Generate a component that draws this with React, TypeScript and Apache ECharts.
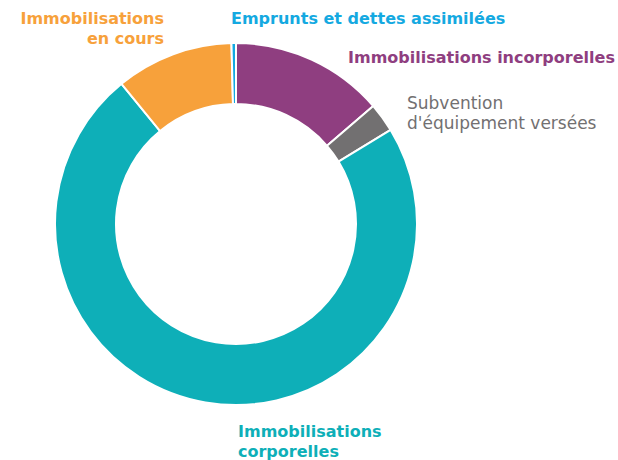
import React, { useEffect, useRef } from "react";
import * as echarts from "echarts";

const categories = [
  "Immobilisations incorporelles",
  "Subvention d'équipement versées",
  "Immobilisations corporelles",
  "Immobilisations en cours",
  "Emprunts et dettes assimilées",
];
const labelTexts = [
  "Immobilisations incorporelles",
  "Subvention\nd'équipement versées",
  "Immobilisations\ncorporelles",
  "Immobilisations\nen cours",
  "Emprunts et dettes assimilées",
];
const values = [13.7, 2.6, 72.8, 10.5, 0.4];
const colors = ["#8F3E80", "#727071", "#0EAFB8", "#F7A13B", "#14A9E1"];

const labelPos: { x: number; y: number; align: string; weight: string; size: number }[] = [
  { x: 348, y: 57, align: "left", weight: "bold", size: 16 },
  { x: 407, y: 113, align: "left", weight: "normal", size: 17 },
  { x: 238, y: 441, align: "left", weight: "bold", size: 16 },
  { x: 164, y: 28, align: "right", weight: "bold", size: 16 },
  { x: 231, y: 18, align: "left", weight: "bold", size: 16 },
];

export default function App() {
  const ref = useRef<HTMLDivElement>(null);
  useEffect(() => {
    document.body.style.margin = "0";
    const chart = echarts.init(ref.current!, null, { renderer: "svg" });
    chart.setOption({
      animation: false,
      series: [
        {
          type: "pie",
          center: [236, 224],
          radius: [120, 181],
          startAngle: 90,
          clockwise: true,
          avoidLabelOverlap: false,
          itemStyle: { borderColor: "#ffffff", borderWidth: 2 },
          labelLine: { show: false },
          label: { show: true, position: "outside" },
          emphasis: { disabled: true },
          labelLayout: (params: any) => {
            const p = labelPos[params.dataIndex];
            return { x: p.x, y: p.y, align: p.align, verticalAlign: "middle" };
          },
          data: categories.map((name, i) => ({
            name,
            value: values[i],
            itemStyle: { color: colors[i] },
            label: {
              formatter: labelTexts[i],
              color: colors[i],
              fontFamily: "DejaVu Sans",
              fontSize: labelPos[i].size,
              fontWeight: labelPos[i].weight,
              lineHeight: 20,
              align: labelPos[i].align,
            },
          })),
        },
      ],
    });
    return () => chart.dispose();
  }, []);
  return <div ref={ref} style={{ width: 618, height: 460 }} />;
}
